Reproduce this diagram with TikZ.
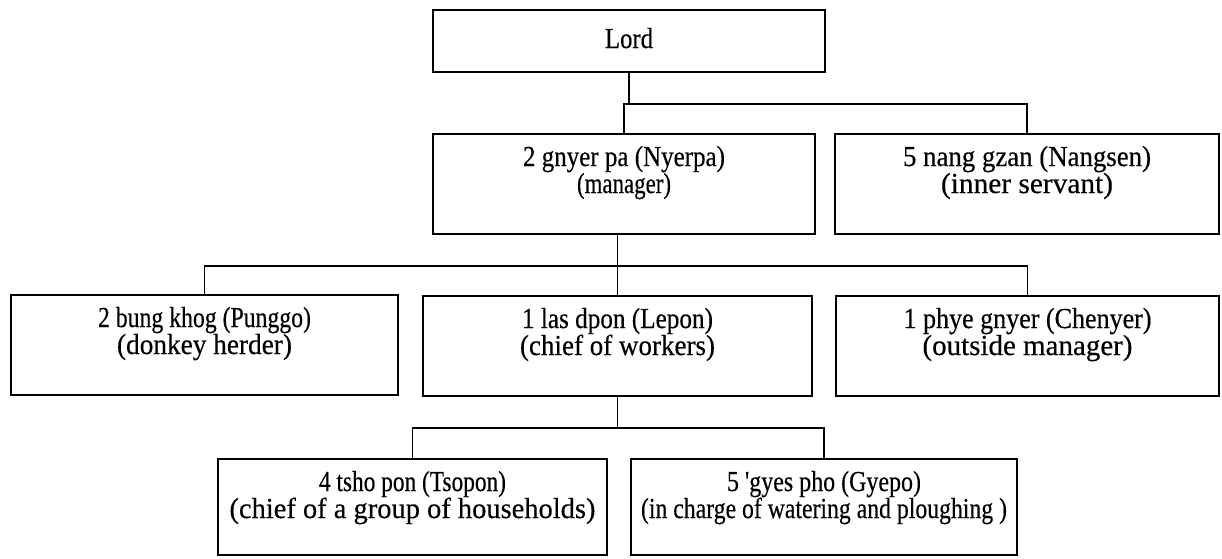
\documentclass[tikz,border=0pt]{standalone}
\usepackage{fontspec}
\usepackage{graphicx}
\setmainfont{Liberation Serif}[FakeBold=0.4]
\newlength\natw
\newcommand\fitw[2]{\settowidth\natw{#2}\pgfmathsetmacro\fitfac{#1/\natw}\scalebox{\fitfac}[1]{#2}}
\newcommand\twolines[2]{\parbox[t]{370pt}{\centering #1\\#2}}
\newcommand\straightq{{\addfontfeatures{Ligatures=TeXOff}'}}
\tikzset{
  box/.style={draw, line width=1.5pt, inner sep=0pt, font=\fontsize{29}{27}\selectfont},
  twobox/.style={box, minimum height=100pt, text height=32pt, text depth=68pt},
  lowbox/.style={box, text height=32pt, text depth=64pt},
  link/.style={line width=1.5pt}
}
\begin{document}
\begin{tikzpicture}[x=1pt,y=-1pt]
\useasboundingbox (0,0) rectangle (1222,558);
\node[box, minimum width=392pt, text height=38pt, text depth=24pt] (lord) at (629,41) {\fitw{48}{Lord}};
\node[twobox, minimum width=382pt] (nyerpa) at (624,184) {\twolines{\fitw{202}{2 gnyer pa (Nyerpa)}}{\fitw{94}{(manager)}}};
\node[twobox, minimum width=384pt] (nangsen) at (1027,184) {\twolines{\fitw{248}{5 nang gzan (Nangsen)}}{\fitw{172}{(inner servant)}}};
\node[twobox, minimum width=387pt] (punggo) at (204.5,345) {\twolines{\fitw{213}{2 bung khog (Punggo)}}{\fitw{175}{(donkey herder)}}};
\node[twobox, minimum width=389pt] (lepon) at (617.5,346) {\twolines{\fitw{191}{1 las dpon (Lepon)}}{\fitw{195}{(chief of workers)}}};
\node[twobox, minimum width=383pt] (chenyer) at (1027.5,346) {\twolines{\fitw{248}{1 phye gnyer (Chenyer)}}{\fitw{210}{(outside manager)}}};
\node[lowbox, minimum width=389pt] (tsopon) at (412.5,507) {\twolines{\fitw{187}{4 tsho pon (Tsopon)}}{\fitw{366}{(chief of a group of households)}}};
\node[lowbox, minimum width=386pt] (gyepo) at (824,507) {\twolines{\fitw{194}{5 \straightq gyes pho (Gyepo)}}{\fitw{366}{(in charge of watering and ploughing )}}};
\coordinate (bus1) at (0,104);
\coordinate (bus2) at (0,266);
\coordinate (bus3) at (0,428);
\draw[link] (lord.south) -- (lord.south |- bus1);
\draw[link] (nyerpa.north) |- (bus1 -| nangsen.north) -- (nangsen.north);
\draw[link] (lepon.north |- nyerpa.south) -- (lepon.north);
\draw[link] (punggo.north) |- (bus2 -| chenyer.north) -- (chenyer.north);
\draw[link] (lepon.south) -- (lepon.south |- bus3);
\draw[link] (tsopon.north) |- (bus3 -| gyepo.north) -- (gyepo.north);
\end{tikzpicture}
\end{document}
